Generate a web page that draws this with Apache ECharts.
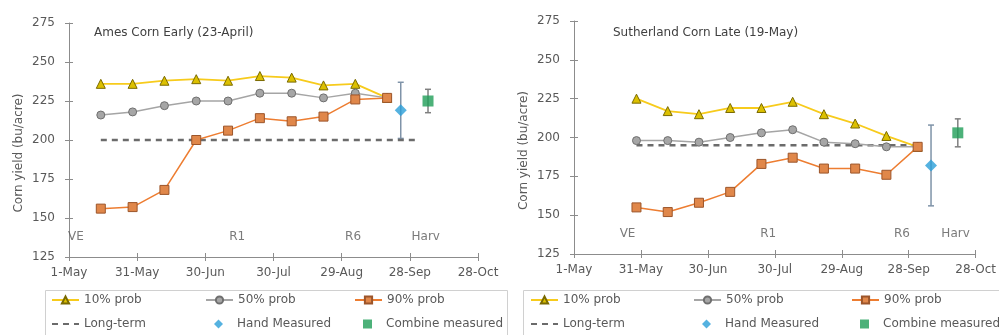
<!DOCTYPE html>
<html><head><meta charset="utf-8">
<script src="https://cdn.jsdelivr.net/npm/echarts@6/dist/echarts.min.js"></script>
<style>html,body{margin:0;padding:0;background:#fff}#c{width:999px;height:335px}</style>
</head><body><div id="c"></div>
<script>
// ---------- data ----------
const originDate = '2019-05-01';
const xTickLabels = ['1-May','31-May','30-Jun','30-Jul','29-Aug','28-Sep','28-Oct'];
const yMin = 125, yMax = 275, yStep = 25;
const yAxisName = 'Corn yield (bu/acre)';
const seriesNames = ['10% prob','50% prob','90% prob','Long-term','Hand Measured','Combine measured'];

const amesTitle = 'Ames Corn Early (23-April)';
const amesDates = ['2019-05-15','2019-05-29','2019-06-12','2019-06-26','2019-07-10','2019-07-24','2019-08-07','2019-08-21','2019-09-04','2019-09-18'];
const ames10 = [236,236,238,239,238,241,240,235,236,227];
const ames50 = [216,218,222,225,225,230,230,227,230,227];
const ames90 = [156,157,168,200,206,214,212,215,226,227];
const amesLongTermDates = ['2019-05-15','2019-10-01'];
const amesLongTerm = [200,200];
const amesHandDate = '2019-09-24';
const amesHand = [219,201,237];        // value, low, high
const amesCombineDate = '2019-10-06';
const amesCombine = [225,217.5,232.5]; // value, low, high
const amesStageNames = ['VE','R1','R6','Harv'];
const amesStageDates = ['2019-05-04','2019-07-14','2019-09-03','2019-10-05'];

const suthTitle = 'Sutherland Corn Late (19-May)';
const suthDates = ['2019-05-29','2019-06-12','2019-06-26','2019-07-10','2019-07-24','2019-08-07','2019-08-21','2019-09-04','2019-09-18','2019-10-02'];
const suth10 = [225,217,215,219,219,223,215,209,201,194];
const suth50 = [198,198,197,200,203,205,197,196,194,194];
const suth90 = [155,152,158,165,183,187,180,180,176,194];
const suthLongTermDates = ['2019-05-29','2019-10-02'];
const suthLongTerm = [195,195];
const suthHandDate = '2019-10-08';
const suthHand = [182,156,208];
const suthCombineDate = '2019-10-20';
const suthCombine = [203,194,212];
const suthStageNames = ['VE','R1','R6','Harv'];
const suthStageDates = ['2019-05-25','2019-07-27','2019-09-25','2019-10-19'];
const stageLabelY = 138;

// ---------- helpers ----------
const FONT = 'DejaVu Sans';
const TXT = '#595959';
const AX = '#8c8c8c';
const day = d => (Date.parse(d) - Date.parse(originDate)) / 86400000;
const pairs = (dates, vals) => dates.map((d, i) => [day(d), vals[i]]);

function errRender(color, cap) {
  return function (params, api) {
    const x = api.value(0), lo = api.value(1), hi = api.value(2);
    const a = api.coord([x, lo]), b = api.coord([x, hi]);
    const st = {stroke: color, lineWidth: 1.5};
    return {type: 'group', children: [
      {type: 'line', shape: {x1: a[0], y1: a[1], x2: b[0], y2: b[1]}, style: st},
      {type: 'line', shape: {x1: a[0]-cap, y1: a[1], x2: a[0]+cap, y2: a[1]}, style: st},
      {type: 'line', shape: {x1: b[0]-cap, y1: b[1], x2: b[0]+cap, y2: b[1]}, style: st}
    ]};
  };
}

const grids = [
  {left: 69, top: 23, width: 409, height: 234},
  {left: 574, top: 21, width: 408, height: 233}
];
const xAxes = [], yAxes = [];
grids.forEach((g, gi) => {
  [false, true].forEach(inside => {
    xAxes.push({type: 'value', gridIndex: gi, position: 'bottom', min: 0, max: 180, interval: 30,
      axisLine: {show: !inside, onZero: false, lineStyle: {color: AX, width: 1}},
      axisTick: {show: true, inside: inside, length: 4, lineStyle: {color: AX}},
      axisLabel: {show: !inside, margin: 10, color: TXT, fontFamily: FONT, fontSize: 12,
        formatter: v => xTickLabels[Math.round(v / 30)]},
      splitLine: {show: false}});
    yAxes.push({type: 'value', gridIndex: gi, position: 'left', min: yMin, max: yMax, interval: yStep,
      name: inside ? '' : yAxisName, nameLocation: 'middle', nameGap: 44,
      nameTextStyle: {color: TXT, fontFamily: FONT, fontSize: 12, padding: [0, 26, 0, 0]},
      axisLine: {show: !inside, onZero: false, lineStyle: {color: AX, width: 1}},
      axisTick: {show: true, inside: inside, length: 4, lineStyle: {color: AX}},
      axisLabel: {show: !inside, margin: 14, color: TXT, fontFamily: FONT, fontSize: 12},
      splitLine: {show: false}});
  });
});

function chartSeries(gi, d) {
  const xi = gi * 2, yi = gi * 2;
  const base = {xAxisIndex: xi, yAxisIndex: yi};
  return [
    Object.assign({name: seriesNames[0], type: 'line', data: pairs(d.dates, d.p10), symbol: 'triangle', symbolSize: 9,
      lineStyle: {color: '#f7cb1c', width: 1.8}, itemStyle: {color: '#dcc000', borderColor: '#7a6a00', borderWidth: 1}, z: 4}, base),
    Object.assign({name: seriesNames[1], type: 'line', data: pairs(d.dates, d.p50), symbol: 'circle', symbolSize: 8,
      lineStyle: {color: '#a5a5a5', width: 1.5}, itemStyle: {color: '#a6a6a6', borderColor: '#6f6f6f', borderWidth: 1}, z: 4}, base),
    Object.assign({name: seriesNames[2], type: 'line', data: pairs(d.dates, d.p90), symbol: 'rect', symbolSize: 9,
      lineStyle: {color: '#ed7d31', width: 1.5}, itemStyle: {color: '#e0874a', borderColor: '#9c552a', borderWidth: 1}, z: 4}, base),
    Object.assign({name: seriesNames[3], type: 'line', data: pairs(d.ltDates, d.lt), symbol: 'none',
      lineStyle: {color: '#6b6b6b', width: 2.5, type: [6, 5]}, itemStyle: {color: '#6b6b6b'}, z: 3}, base),
    Object.assign({type: 'custom', renderItem: errRender('#7f93a8', 3), data: [[day(d.handDate), d.hand[1], d.hand[2]]], z: 2, silent: true}, base),
    Object.assign({type: 'custom', renderItem: errRender('#7f7f7f', 3), data: [[day(d.combDate), d.comb[1], d.comb[2]]], z: 2, silent: true}, base),
    Object.assign({name: seriesNames[4], type: 'scatter', data: [[day(d.handDate), d.hand[0]]], symbol: 'diamond', symbolSize: 12,
      itemStyle: {color: '#2a9fd8'}, z: 5}, base),
    Object.assign({name: seriesNames[5], type: 'scatter', data: [[day(d.combDate), d.comb[0]]], symbol: 'rect', symbolSize: 11,
      itemStyle: {color: '#1f9e58'}, z: 5}, base),
    Object.assign({type: 'scatter', silent: true, symbolSize: 1, itemStyle: {color: 'transparent'},
      data: d.stageNames.map((n, i) => ({name: n, value: [day(d.stageDates[i]), stageLabelY]})),
      label: {show: true, position: 'inside', formatter: p => p.name, color: TXT, fontFamily: FONT, fontSize: 12}, z: 6}, base)
  ];
}

const series = [].concat(
  chartSeries(0, {dates: amesDates, p10: ames10, p50: ames50, p90: ames90, ltDates: amesLongTermDates, lt: amesLongTerm,
    handDate: amesHandDate, hand: amesHand, combDate: amesCombineDate, comb: amesCombine, stageNames: amesStageNames, stageDates: amesStageDates}),
  chartSeries(1, {dates: suthDates, p10: suth10, p50: suth50, p90: suth90, ltDates: suthLongTermDates, lt: suthLongTerm,
    handDate: suthHandDate, hand: suthHand, combDate: suthCombineDate, comb: suthCombine, stageNames: suthStageNames, stageDates: suthStageDates})
);

const legendCols = [[51, 205, 354], [530, 693, 851]];
const legendRows = [294, 318];
const legendItemOverrides = [
  {}, {}, {},
  {itemStyle: {opacity: 0}},
  {icon: 'diamond', itemStyle: {color: '#2a9fd8'}},
  {icon: 'rect', itemStyle: {color: '#1f9e58'}}
];
const legends = [];
legendCols.forEach(cols => {
  seriesNames.forEach((n, i) => {
    const item = Object.assign({name: n}, legendItemOverrides[i]);
    const marker = i >= 4;
    legends.push({data: [item], left: cols[i % 3] + (marker ? 9 : 0), top: legendRows[Math.floor(i / 3)], padding: 0,
      itemWidth: marker ? 9 : 27, itemHeight: 9, selectedMode: false,
      textStyle: {color: TXT, fontFamily: FONT, fontSize: 12, padding: marker ? [0, 0, 0, 9] : 0}});
  });
});

const chart = echarts.init(document.getElementById('c'), null, {renderer: 'canvas'});
chart.setOption({
  animation: false,
  backgroundColor: '#fff',
  grid: grids,
  xAxis: xAxes,
  yAxis: yAxes,
  legend: legends,
  title: [
    {text: amesTitle, left: 94, top: 27, padding: 0, textStyle: {color: '#404040', fontFamily: FONT, fontSize: 12, fontWeight: 'normal'}},
    {text: suthTitle, left: 613, top: 27, padding: 0, textStyle: {color: '#404040', fontFamily: FONT, fontSize: 12, fontWeight: 'normal'}}
  ],
  graphic: [
    {type: 'rect', shape: {x: 45.5, y: 290.5, width: 462, height: 60}, style: {fill: 'none', stroke: '#d0d0d0', lineWidth: 1}, silent: true},
    {type: 'rect', shape: {x: 523.5, y: 290.5, width: 480, height: 60}, style: {fill: 'none', stroke: '#d0d0d0', lineWidth: 1}, silent: true}
  ],
  series: series
});
</script>
</body></html>
